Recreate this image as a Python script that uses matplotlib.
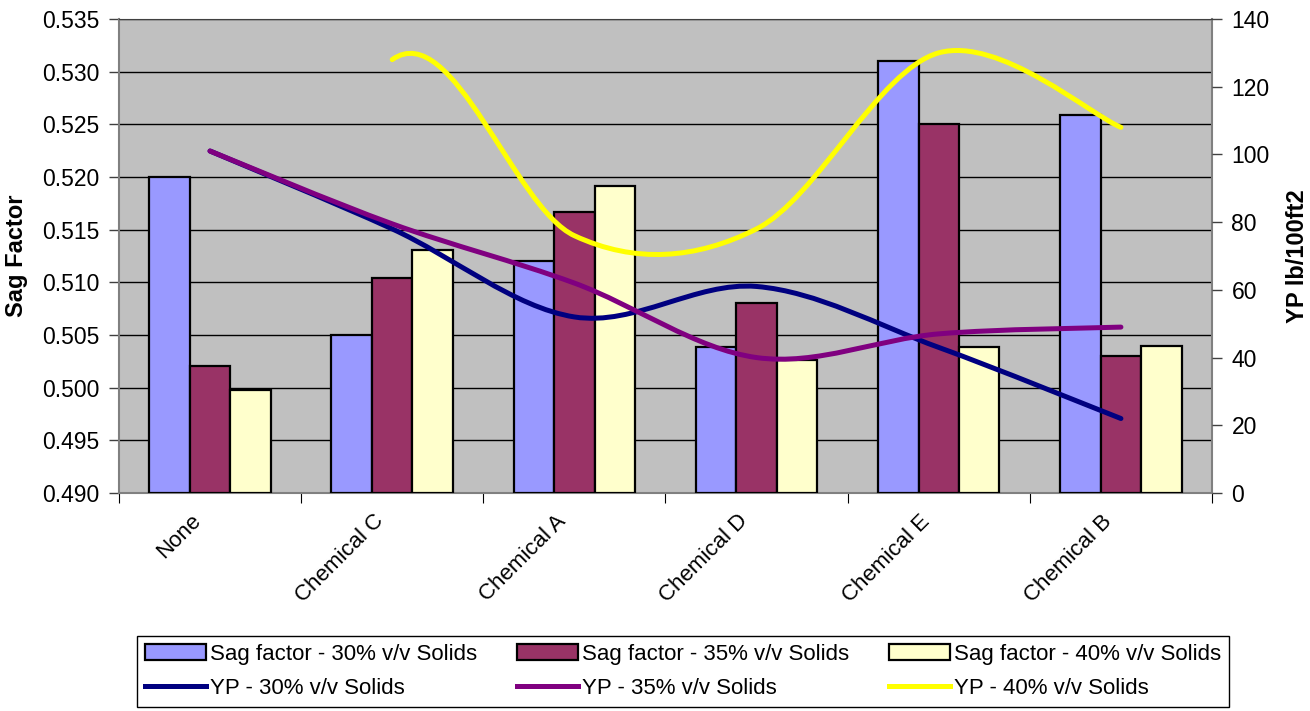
import numpy as np
import matplotlib
matplotlib.use('Agg')
import matplotlib.pyplot as plt
import matplotlib.transforms as mtrans
from matplotlib.path import Path
from matplotlib.patches import PathPatch, Patch
from matplotlib.lines import Line2D

plt.rcParams['font.family'] = ['Liberation Sans', 'DejaVu Sans']

categories = ['None', 'Chemical C', 'Chemical A', 'Chemical D', 'Chemical E', 'Chemical B']
sag_30 = [0.5200, 0.5050, 0.5120, 0.5039, 0.5310, 0.5259]
sag_35 = [0.5021, 0.5104, 0.5167, 0.5080, 0.5250, 0.5030]
sag_40 = [0.4998, 0.5131, 0.5191, 0.5026, 0.5039, 0.5040]
yp_30 = [101, 78, 52, 61, 43, 22]
yp_35 = [101, 79.5, 62, 40, 47, 49]
yp_40 = [np.nan, 128, 76, 78, 130, 108]

bar_colors = ['#9999FF', '#993366', '#FFFFCC']
line_colors = ['#000080', '#800080', '#FFFF00']
sag_labels = ['Sag factor - 30% v/v Solids', 'Sag factor - 35% v/v Solids', 'Sag factor - 40% v/v Solids']
yp_labels = ['YP - 30% v/v Solids', 'YP - 35% v/v Solids', 'YP - 40% v/v Solids']


def smooth_path(xs, ys):
    # spreadsheet-style smoothed line: cubic bezier through each point.
    # a blank cell next to the series still counts as 0 for the tangent.
    xs = np.asarray(xs, dtype=float)
    ys = np.asarray(ys, dtype=float)
    tan_y = np.nan_to_num(ys)
    idx = np.where(~np.isnan(ys))[0]
    n = len(xs)
    pt = lambda i: np.array([xs[i], ys[i]])
    nb = lambda i: np.array([xs[min(max(i, 0), n - 1)], tan_y[min(max(i, 0), n - 1)]])
    verts = [pt(idx[0])]
    codes = [Path.MOVETO]
    for a, b in zip(idx[:-1], idx[1:]):
        c1 = pt(a) + (pt(b) - nb(a - 1)) / 6.0
        c2 = pt(b) - (nb(b + 1) - pt(a)) / 6.0
        verts += [c1, c2, pt(b)]
        codes += [Path.CURVE4] * 3
    return Path(verts, codes)


fig = plt.figure(figsize=(13.1, 7.11), dpi=100)
ax = fig.add_axes([0.0908, 0.3066, 0.8344, 0.6667])
ax.set_facecolor('#C0C0C0')

x = np.arange(len(categories))
w = 1 / 4.5
for k, (vals, col) in enumerate(zip([sag_30, sag_35, sag_40], bar_colors)):
    ax.bar(x + (k - 1) * w, np.array(vals) - 0.490, bottom=0.490, width=w,
           color=col, edgecolor='black', linewidth=1.6, zorder=3)

ax.set_xlim(-0.5, len(categories) - 0.5)
ax.set_ylim(0.490, 0.535)
yt = np.arange(0.490, 0.5351, 0.005)
ax.set_yticks(yt)
ax.set_yticklabels(['%.3f' % v for v in yt])
ax.yaxis.grid(True, color='black', linewidth=1.0, zorder=0)
ax.set_axisbelow(True)

ax.set_xticks(np.arange(-0.5, len(categories), 1.0))
ax.set_xticklabels([])
ax.set_xticks(x, minor=True)
ax.set_xticklabels(categories, minor=True, rotation=45, ha='right', va='center',
                   rotation_mode='anchor', fontsize=16)
ax.tick_params(axis='x', which='minor', length=0, pad=18)
ax.tick_params(axis='x', which='major', length=7, direction='out', color='black')
ax.tick_params(axis='y', length=7, width=1.0, labelsize=16.5, pad=7, color='#404040')
shift = mtrans.ScaledTranslation(-12 / 100, 0, fig.dpi_scale_trans)
for lab in ax.get_xticklabels(minor=True):
    lab.set_transform(lab.get_transform() + shift)

for s in ['left', 'right', 'bottom']:
    ax.spines[s].set_color('#808080')
    ax.spines[s].set_linewidth(1.5)
ax.spines['top'].set_color('#404040')

ax.set_ylabel('Sag Factor', fontsize=17, fontweight='bold', labelpad=10)

ax2 = ax.twinx()
ax2.set_ylim(0, 140)
ax2.set_yticks(np.arange(0, 141, 20))
ax2.tick_params(axis='y', length=7, width=1.0, labelsize=16.5, pad=7, color='#404040')
for s in ax2.spines.values():
    s.set_visible(False)
ax2.set_ylabel('YP lb/100ft2', fontsize=17, fontweight='bold', labelpad=12)

for vals, col in zip([yp_30, yp_35, yp_40], line_colors):
    ax2.add_patch(PathPatch(smooth_path(x, vals), facecolor='none', edgecolor=col,
                            linewidth=3.6, capstyle='round', joinstyle='round', zorder=4))

handles = []
labels = []
for k in range(3):
    handles.append(Patch(facecolor=bar_colors[k], edgecolor='black', linewidth=1.6))
    labels.append(sag_labels[k])
    handles.append(Line2D([], [], color=line_colors[k], linewidth=3.6))
    labels.append(yp_labels[k])

leg = fig.legend(handles, labels, ncol=3, loc='upper left',
                 bbox_to_anchor=(137 / 1310, 1 - 706 / 711, (1229 - 137) / 1310, 70 / 711),
                 mode='expand', fontsize=16, frameon=True, fancybox=False, framealpha=1,
                 edgecolor='black', handlelength=2.75, handletextpad=0.2,
                 columnspacing=0.5, borderaxespad=0, labelspacing=0.6,
                 borderpad=0.35)
leg.get_frame().set_linewidth(1.0)

fig.savefig('out.png', dpi=100, facecolor='white')
